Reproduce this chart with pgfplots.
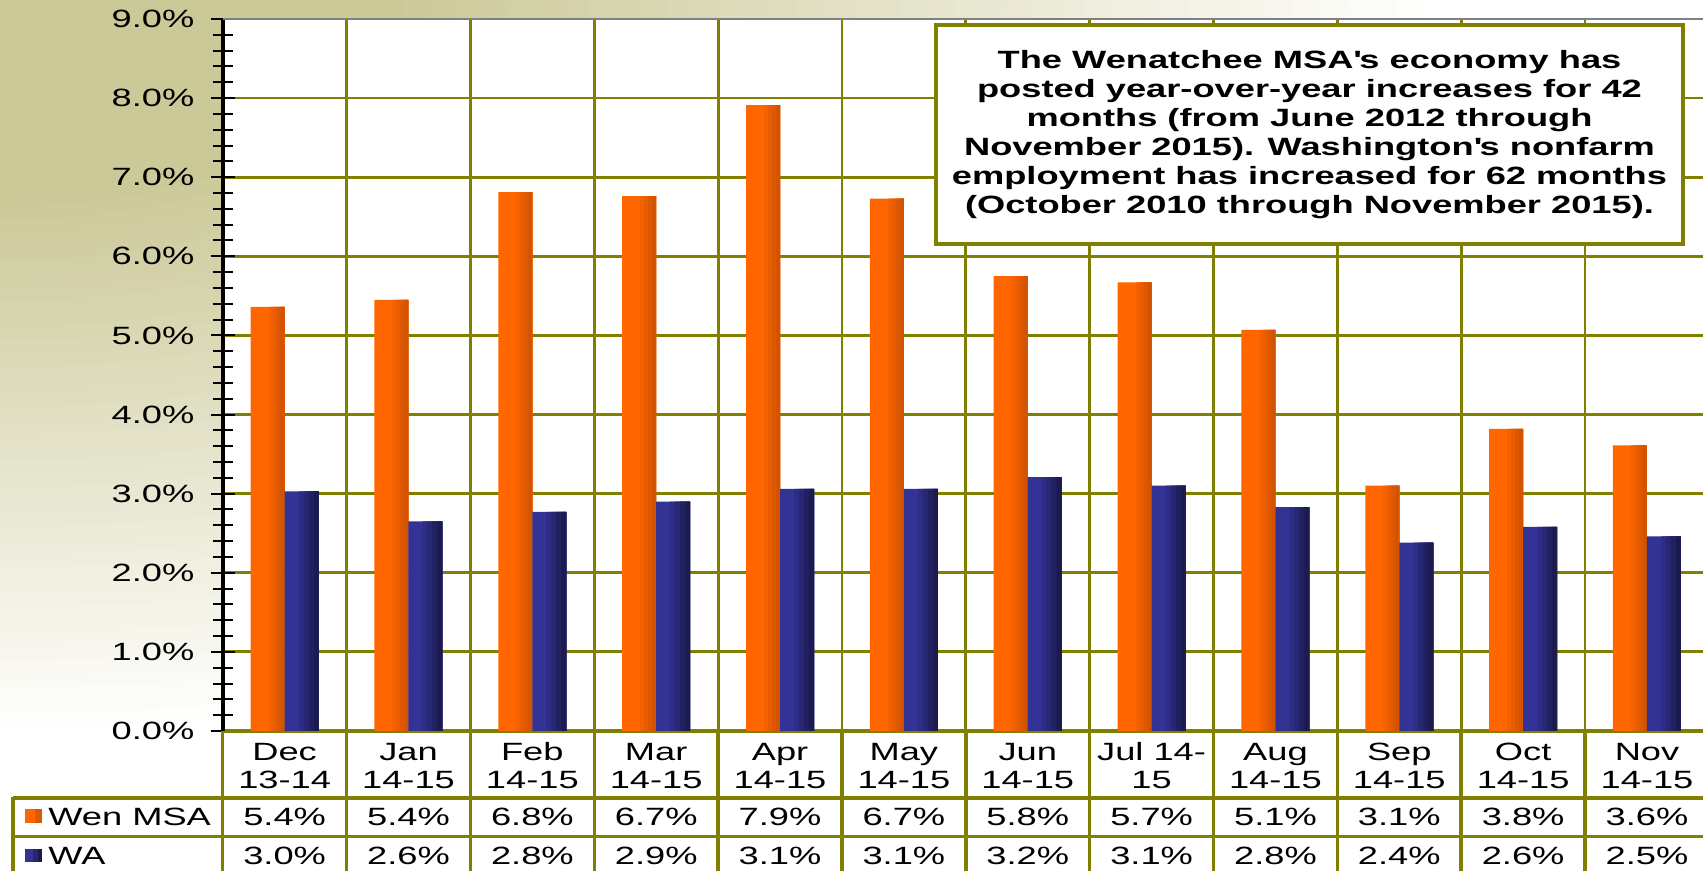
\documentclass[border=0pt]{standalone}
\usepackage{fontspec}
\setmainfont{Liberation Sans}[FakeStretch=1.45]
\usepackage{pgfplots}
\usepackage{pgfplotstable}
\pgfplotsset{compat=1.18}

\definecolor{bgk}{RGB}{204,201,153}
\definecolor{olivegrid}{RGB}{128,128,0}
\definecolor{o1}{RGB}{255,102,0}
\definecolor{o2}{RGB}{244,97,0}
\definecolor{o3}{RGB}{233,93,0}
\definecolor{o4}{RGB}{221,88,0}
\definecolor{o5}{RGB}{210,84,0}
\definecolor{b1}{RGB}{51,51,150}
\definecolor{b2}{RGB}{45,45,133}
\definecolor{b3}{RGB}{39,39,115}
\definecolor{b4}{RGB}{33,33,97}
\definecolor{b5}{RGB}{27,27,80}

\newcommand{\lbl}{\fontsize{12.5}{14}\selectfont}

% Wenatchee MSA
\pgfplotstableread{
x y
0 5.36
1 5.45
2 6.81
3 6.76
4 7.91
5 6.73
6 5.75
7 5.67
8 5.07
9 3.10
10 3.82
11 3.61
}\wen
% Washington State
\pgfplotstableread{
x y
0 3.03
1 2.65
2 2.77
3 2.90
4 3.06
5 3.06
6 3.21
7 3.10
8 2.83
9 2.38
10 2.58
11 2.46
}\wa

\begin{document}
\begin{tikzpicture}
% background
\begin{scope}[x=0.5pt,y=-0.5pt,shift={(0pt,435.5pt)}]
  \begin{scope}
    \clip (0,0) rectangle (1703,871);
    \fill[white] (0,0) rectangle (1703,871);
    \foreach \k in {0,...,40} {
      \pgfmathsetmacro{\s}{1-\k*0.018}
      \pgfmathsetmacro{\pct}{\k*2.5}
      \fill[bgk!\pct!white] (0,0) ellipse [x radius={1450*\s}, y radius={740*\s}];
    }
  \end{scope}
  \fill[white] (222.7,731) rectangle (1720,890);
  \fill[white] (13,797) rectangle (222.7,890);
\end{scope}

\begin{axis}[
  at={(111.35pt,70pt)}, anchor=south west,
  scale only axis, width=743.1pt, height=356pt,
  xmin=-0.5, xmax=11.5, ymin=0, ymax=9,
  axis background/.style={fill=white},
  axis x line*=bottom, axis y line*=left,
  axis line style={-},
  x axis line style={draw=olivegrid, line width=1.75pt},
  y axis line style={draw=black, line width=2pt},
  ybar,
  xtick={0,...,11},
  xticklabels={{Dec\\13-14},{Jan\\14-15},{Feb\\14-15},{Mar\\14-15},{Apr\\14-15},{May\\14-15},{Jun\\14-15},{Jul 14-\\15},{Aug\\14-15},{Sep\\14-15},{Oct\\14-15},{Nov\\14-15}},
  xtick style={draw=none},
  minor x tick style={draw=none},
  minor xtick={-0.5,0.5,...,11.5},
  xminorgrids, minor x grid style={draw=olivegrid, line width=1.4pt},
  ytick={0,...,9}, minor y tick num=4,
  ymajorgrids, major y grid style={draw=olivegrid, line width=1.4pt},
  tick align=center, major tick length=12pt, minor tick length=10pt,
  ytick style={draw=black, line width=1pt},
  minor y tick style={draw=black, line width=1pt},
  /pgf/number format/assume math mode=true,
  yticklabel={\pgfmathprintnumber[fixed,fixed zerofill,precision=1]{\tick}\%},
  yticklabel style={anchor=east, inner sep=0pt, xshift=-8pt, font=\lbl},
  xticklabel style={anchor=center, align=center, yshift=-11.5pt, font=\lbl},
]
% Wen MSA bars (stepped horizontal shading)
\addplot[draw=none, fill=o1, bar width=17pt, bar shift=-8.5pt] table {\wen};
\addplot[draw=none, fill=o2, bar width=8pt, bar shift=-4pt] table {\wen};
\addplot[draw=none, fill=o3, bar width=6pt, bar shift=-3pt] table {\wen};
\addplot[draw=none, fill=o4, bar width=4pt, bar shift=-2pt] table {\wen};
\addplot[draw=none, fill=o5, bar width=2pt, bar shift=-1pt] table {\wen};
% WA bars
\addplot[draw=none, fill=b1, bar width=17pt, bar shift=8.5pt] table {\wa};
\addplot[draw=none, fill=b2, bar width=10pt, bar shift=12pt] table {\wa};
\addplot[draw=none, fill=b3, bar width=7.5pt, bar shift=13.25pt] table {\wa};
\addplot[draw=none, fill=b4, bar width=5pt, bar shift=14.5pt] table {\wa};
\addplot[draw=none, fill=b5, bar width=2.5pt, bar shift=15.75pt] table {\wa};
\draw[draw={rgb,255:red,128;green,128;blue,128}, line width=1.5pt] (rel axis cs:0,1) -- (rel axis cs:1,1);
\end{axis}

\begin{scope}[x=0.5pt,y=-0.5pt,shift={(0pt,435.5pt)}]
  \draw[olivegrid, line width=1.75pt] (13,798) -- (1720,798);
  \draw[olivegrid, line width=1.75pt] (13,836.5) -- (1720,836.5);
  \draw[olivegrid, line width=1.75pt] (13,797.1) -- (13,890);
  \foreach \i in {0,...,12} {
    \draw[olivegrid, line width=1.75pt] ({222.7+123.85*\i},731) -- ({222.7+123.85*\i},890);
  }
  \foreach \v [count=\i from 0] in {5.4,5.4,6.8,6.7,7.9,6.7,5.8,5.7,5.1,3.1,3.8,3.6} {
    \node[font=\lbl, inner sep=0pt] at ({222.7+123.85*(\i+0.5)},816.5) {\v\%};
  }
  \foreach \v [count=\i from 0] in {3.0,2.6,2.8,2.9,3.1,3.1,3.2,3.1,2.8,2.4,2.6,2.5} {
    \node[font=\lbl, inner sep=0pt] at ({222.7+123.85*(\i+0.5)},855.5) {\v\%};
  }
  \fill[o1] (25,809) rectangle (35,823);
  \fill[o4] (35,809) rectangle (42,823);
  \fill[b1] (25,849) rectangle (33,862);
  \fill[b3] (33,849) rectangle (38,862);
  \fill[b5] (38,849) rectangle (42,862);
  \node[font=\lbl, anchor=west, inner sep=0pt] at (48,816.5) {Wen MSA};
  \node[font=\lbl, anchor=west, inner sep=0pt] at (48,855.5) {WA};
  \node[draw=olivegrid, line width=1.75pt, fill=white, minimum width=373.5pt, minimum height=109.5pt, inner sep=0pt, align=center, font=\bfseries\fontsize{12.5}{14.5}\selectfont] at (1309.5,134.5)
   {The Wenatchee MSA\textquotesingle s economy has\\ posted year-over-year increases for 42\\ months (from June 2012 through\\ November 2015). Washington\textquotesingle s nonfarm\\ employment has increased for 62 months\\ (October 2010 through November 2015).};
\end{scope}
\pgfresetboundingbox
\path (0,0) rectangle (851.5pt,435.5pt);
\end{tikzpicture}
\end{document}
